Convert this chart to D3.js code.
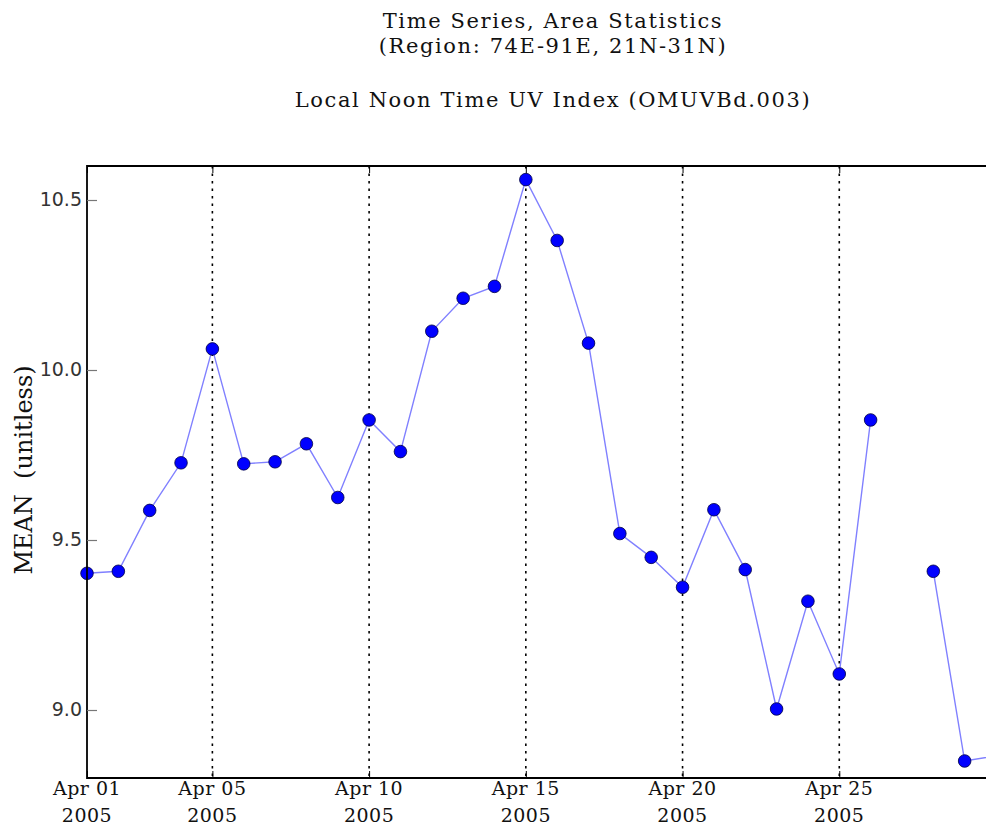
<!DOCTYPE html>
<html>
<head>
<meta charset="utf-8">
<script src="https://cdn.jsdelivr.net/npm/d3@7"></script>
<style>
  html, body { margin: 0; padding: 0; background: #fff; overflow: hidden; }
  svg { display: block; }
</style>
</head>
<body>
<svg id="chart" width="986" height="825"></svg>
<script>
// Daily area-mean UV index, April 2005 (null = no retrieval that day)
const days = d3.range(1, 31);
const meanUV = [
  9.402, 9.408, 9.587, 9.727, 10.062, 9.724, 9.730, 9.783, 9.625, 9.853,
  9.760, 10.114, 10.211, 10.246, 10.560, 10.381, 10.079, 9.519, 9.449, 9.361,
  9.589, 9.413, 9.003, 9.320, 9.106, 9.853, null, 9.408, 8.850, 8.865
];
const yTicks = [9.0, 9.5, 10.0, 10.5];
const xTickDays = [1, 5, 10, 15, 20, 25];
const titleLines = ["Time Series, Area Statistics", "(Region: 74E-91E, 21N-31N)"];
const subTitle = "Local Noon Time UV Index (OMUVBd.003)";
const yLabel = "MEAN  (unitless)";

const serif = "'DejaVu Serif', 'Liberation Serif', serif";
const sans = "'DejaVu Sans', sans-serif";

const svg = d3.select("#chart");
const m = { left: 87, top: 166, right: 996, bottom: 778 };

const x = d3.scaleTime()
  .domain([new Date(2005, 3, 1), new Date(2005, 3, 30)])
  .range([m.left, m.right]);
const y = d3.scaleLinear().domain([8.8, 10.6]).range([m.bottom, m.top]);

const series = days.map((d, i) => ({ date: new Date(2005, 3, d), v: meanUV[i] }));

// titles
const title = svg.append("g").attr("font-family", serif).attr("font-size", 21)
  .attr("letter-spacing", 1.6).attr("text-anchor", "middle").attr("fill", "#111");
titleLines.forEach((t, i) => title.append("text").attr("x", 553).attr("y", 28 + i * 25).text(t));
title.append("text").attr("x", 553).attr("y", 107).text(subTitle);

// vertical dotted grid at major date ticks
const grid = svg.append("g");
grid.selectAll("line").data(xTickDays.filter(d => d !== 1))
  .join("line")
  .attr("x1", d => x(new Date(2005, 3, d))).attr("x2", d => x(new Date(2005, 3, d)))
  .attr("y1", m.top).attr("y2", m.bottom)
  .attr("stroke", "#000").attr("stroke-width", 1.6).attr("stroke-dasharray", "2.5,5");

// series line with gap on missing days
const line = d3.line().defined(d => d.v != null)
  .x(d => x(d.date)).y(d => y(d.v));
svg.append("path").datum(series)
  .attr("fill", "none").attr("stroke", "#8080ff").attr("stroke-width", 1.4)
  .attr("d", line);

svg.append("g").selectAll("circle").data(series.filter(d => d.v != null))
  .join("circle")
  .attr("cx", d => x(d.date)).attr("cy", d => y(d.v)).attr("r", 6.3)
  .attr("fill", "#0000ff").attr("stroke", "#000040").attr("stroke-width", 0.8);

// frame
svg.append("path")
  .attr("d", `M${m.right},${m.top}H${m.left}V${m.bottom}H${m.right}`)
  .attr("fill", "none").attr("stroke", "#000").attr("stroke-width", 1.8);

// y axis: inward ticks, sans labels
const yAxis = d3.axisRight(y).tickValues(yTicks).tickSize(10).tickFormat(d3.format(".1f"));
const yg = svg.append("g").attr("transform", `translate(${m.left},0)`).call(yAxis);
yg.select(".domain").remove();
yg.selectAll(".tick line").attr("stroke", "#777").attr("stroke-width", 1.2);
yg.selectAll(".tick text").attr("x", -5).attr("dy", "0.3em").attr("text-anchor", "end")
  .attr("font-family", sans).attr("font-size", 19).attr("fill", "#333");

// x axis: small inward ticks top and bottom, two-line serif labels
const xDates = xTickDays.map(d => new Date(2005, 3, d));
const xb = svg.append("g").attr("transform", `translate(0,${m.bottom})`)
  .call(d3.axisTop(x).tickValues(xDates).tickSize(7).tickFormat(""));
xb.select(".domain").remove();
const xt = svg.append("g").attr("transform", `translate(0,${m.top})`)
  .call(d3.axisBottom(x).tickValues(xDates).tickSize(7).tickFormat(""));
xt.select(".domain").remove();

const fmtDay = d3.timeFormat("%b %d");
const fmtYear = d3.timeFormat("%Y");
const xl = svg.append("g").attr("font-family", serif).attr("font-size", 19)
  .attr("letter-spacing", 0.5).attr("text-anchor", "middle").attr("fill", "#111");
xl.selectAll("text.day").data(xDates).join("text").attr("class", "day")
  .attr("x", d => x(d)).attr("y", 795).text(fmtDay);
xl.selectAll("text.yr").data(xDates).join("text").attr("class", "yr")
  .attr("x", d => x(d)).attr("y", 822).text(fmtYear);

// y axis title
svg.append("text")
  .attr("transform", "translate(32,470) rotate(-90)")
  .attr("text-anchor", "middle").attr("font-family", serif).attr("font-size", 24)
  .attr("fill", "#111").style("white-space", "pre")
  .text(yLabel);
</script>
</body>
</html>
